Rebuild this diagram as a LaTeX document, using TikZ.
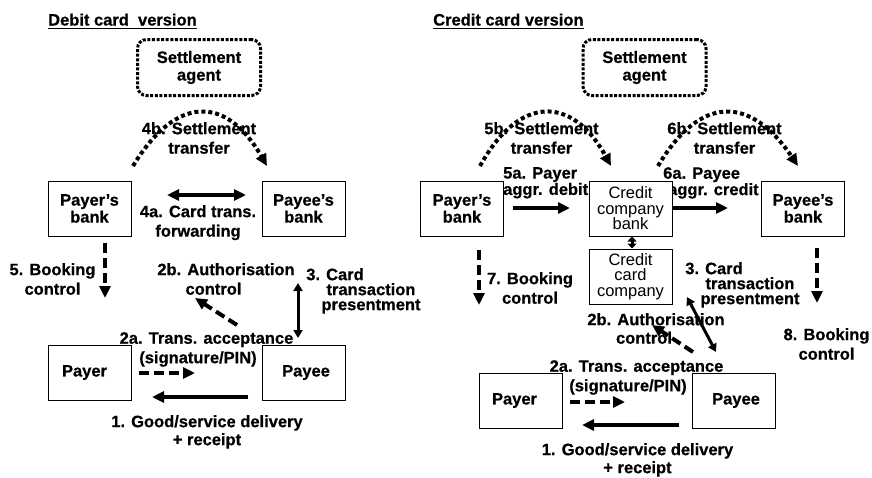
\documentclass[tikz,border=0pt]{standalone}
\usepackage{fontspec}
\setmainfont[BoldFeatures={FakeBold=0.6}]{Liberation Sans}
\usetikzlibrary{arrows.meta}
\begin{document}
\begin{tikzpicture}[x=1pt,y=-1pt,
  lbl/.style={inner sep=0pt, align=center, anchor=north,
    font=\fontsize{16.5}{19.5}\selectfont\bfseries},
  tightlbl/.style={lbl, font=\fontsize{16.5}{15}\selectfont\bfseries},
  ttl/.style={inner sep=0pt, anchor=base west, font=\fontsize{16.5}{19}\selectfont\bfseries},
  box/.style={draw, line width=1pt, fill=white, minimum width=83pt, minimum height=55pt,
    inner sep=0pt, align=center, font=\fontsize{16.5}{17}\selectfont\bfseries},
  cbox/.style={box, font=\fontsize{16.5}{15.5}\selectfont},
  agentbox/.style={draw, line width=3pt, dash pattern=on 3pt off 1.6pt, rounded corners=9pt,
    minimum width=123pt, minimum height=56pt, inner sep=0pt, align=center,
    font=\fontsize{16.5}{17.6}\selectfont\bfseries},
  tip/.tip={Triangle[length=12pt,width=11pt]},
  smalltip/.tip={Triangle[length=8pt,width=9pt]},
  flow/.style={line width=4pt, -tip},
  dflow/.style={flow, dash pattern=on 10pt off 5pt},
  twoway/.style={line width=4pt, tip-tip},
  thinway/.style={line width=3pt, smalltip-smalltip},
  settle/.style={line width=4pt, dash pattern=on 4pt off 3pt, -tip},
  uline/.style={line width=1.3pt}
]
\useasboundingbox (0,0) rectangle (872,477);

% ---------------- Debit card panel ----------------
\node[ttl] (tdeb) at (48,25.5) {Debit card\ \ version};
\draw[uline] ([yshift=-2.8pt]tdeb.base west) -- ([yshift=-2.8pt]tdeb.base east);

\node[lbl] (l4b) at (199,122) {4b. Settlement\\transfer};
\node[lbl] (l4a) at (198,205) {4a. Card trans.\\forwarding};
\node[lbl] (l5) at (52.5,263) {5. Booking\\control};
\node[lbl] (l2b) at (226,263) {2b. Authorisation\\control\hspace*{25pt}};
\node[tightlbl] (l3) at (371,268) {3. Card\hspace*{72pt}\\transaction\\presentment};
\node[lbl] (l2a) at (206.5,332) {2a. Trans. acceptance\\(signature/PIN)\hspace*{17pt}};
\node[lbl, font=\fontsize{16.5}{18}\selectfont\bfseries] (l1) at (207,415) {1. Good/service delivery\\+ receipt};

\node[agentbox] (agL) at (199,67.5) {Settlement\\agent};
\node[box] (pbL) at (89.5,208.5) {Payer's\\bank};
\node[box] (qbL) at (303.5,208.5) {Payee's\\bank};
\node[box] (prL) at (89.5,372.5) {Payer\hspace*{10pt}};
\node[box] (peL) at (303.5,372.5) {\hspace*{5pt}Payee};

\coordinate (s4bL) at (133,166);
\coordinate (e4bL) at (267,166);
\coordinate (s4aL) at (167,195);
\coordinate (e4aL) at (246,195);
\coordinate (s5L) at (105,243);
\coordinate (e5L) at (105,298);
\coordinate (s2bL) at (237,325);
\coordinate (e2bL) at (195,298);
\coordinate (s3L) at (298,283);
\coordinate (e3L) at (298,338);
\coordinate (s2aL) at (139,373);
\coordinate (e2aL) at (195,373);
\coordinate (s1L) at (248,397);
\coordinate (e1L) at (152,397);

\draw[settle] (s4bL) .. controls (176,95) and (226,95) .. (e4bL);
\draw[twoway] (s4aL) -- (e4aL);
\draw[dflow] (s5L) -- (e5L);
\draw[dflow] (s2bL) -- (e2bL);
\draw[thinway] (s3L) -- (e3L);
\draw[dflow] (s2aL) -- (e2aL);
\draw[flow] (s1L) -- (e1L);

% ---------------- Credit card panel ----------------
\node[ttl] (tcre) at (433,25.5) {Credit card version};
\draw[uline] ([yshift=-2.8pt]tcre.base west) -- ([yshift=-2.8pt]tcre.base east);

\node[lbl] (l5b) at (541.5,122) {5b. Settlement\\transfer};
\node[lbl] (l6b) at (724.5,122) {6b. Settlement\\transfer};
\node[tightlbl, align=left, anchor=north west] (l5a) at (503,167) {5a. Payer\\aggr. debit};
\node[tightlbl, align=left, anchor=north west] (l6a) at (663,167) {6a. Payee\\\hspace*{5pt}aggr. credit};
\node[lbl] (l7) at (530,272) {7. Booking\\control};
\node[lbl] (l8) at (826.5,328) {8. Booking\\control};
\node[tightlbl] (l3R) at (750,262) {3. Card\hspace*{72pt}\\transaction\\presentment};
\node[lbl, font=\fontsize{16.5}{18.5}\selectfont\bfseries] (l2bR) at (656,313) {2b. Authorisation\\control\hspace*{24pt}};
\node[lbl] (l2aR) at (636.5,360) {2a. Trans. acceptance\\(signature/PIN)\hspace*{17pt}};
\node[lbl, font=\fontsize{16.5}{18}\selectfont\bfseries] (l1R) at (637.5,443) {1. Good/service delivery\\+ receipt};

\node[agentbox] (agR) at (644.5,67.5) {Settlement\\agent};
\node[box] (pbR) at (462,208.5) {Payer's\\bank};
\node[cbox] (ccb) at (630.5,208.5) {Credit\\company\\bank};
\node[box] (qbR) at (803,208.5) {Payee's\\bank};
\node[cbox] (ccc) at (630.5,276.5) {Credit\\card\\company};
\node[box] (prR) at (520.5,400.5) {Payer\hspace*{12pt}};
\node[box] (peR) at (733.5,400.5) {\hspace*{5pt}Payee};

\coordinate (s5bR) at (480,166);
\coordinate (e5bR) at (611,166);
\coordinate (s6bR) at (658,166);
\coordinate (e6bR) at (798,166);
\coordinate (s5aR) at (513,208);
\coordinate (e5aR) at (570,208);
\coordinate (s6aR) at (672,208);
\coordinate (e6aR) at (728,208);
\coordinate (s7R) at (479,250);
\coordinate (e7R) at (479,305);
\coordinate (s8R) at (817,248);
\coordinate (e8R) at (817,303);
\coordinate (s3R) at (687,297);
\coordinate (e3R) at (716,352);
\coordinate (s2bR) at (693,352);
\coordinate (e2bR) at (652,325);
\coordinate (s2aR) at (570,402);
\coordinate (e2aR) at (625,402);
\coordinate (s1R) at (679,425);
\coordinate (e1R) at (582,425);

\draw[settle] (s5bR) .. controls (519,95) and (572,95) .. (e5bR);
\draw[settle] (s6bR) .. controls (700,95) and (750,95) .. (e6bR);
\draw[flow] (s5aR) -- (e5aR);
\draw[flow] (s6aR) -- (e6aR);
\draw[line width=3pt, {Triangle[length=5pt,width=9pt]}-{Triangle[length=5pt,width=9pt]}]
  ([xshift=1.5pt]ccb.south) -- ([xshift=1.5pt]ccc.north);
\draw[dflow] (s7R) -- (e7R);
\draw[dflow] (s8R) -- (e8R);
\draw[thinway] (s3R) -- (e3R);
\draw[dflow] (s2bR) -- (e2bR);
\draw[dflow] (s2aR) -- (e2aR);
\draw[flow] (s1R) -- (e1R);
\end{tikzpicture}
\end{document}
